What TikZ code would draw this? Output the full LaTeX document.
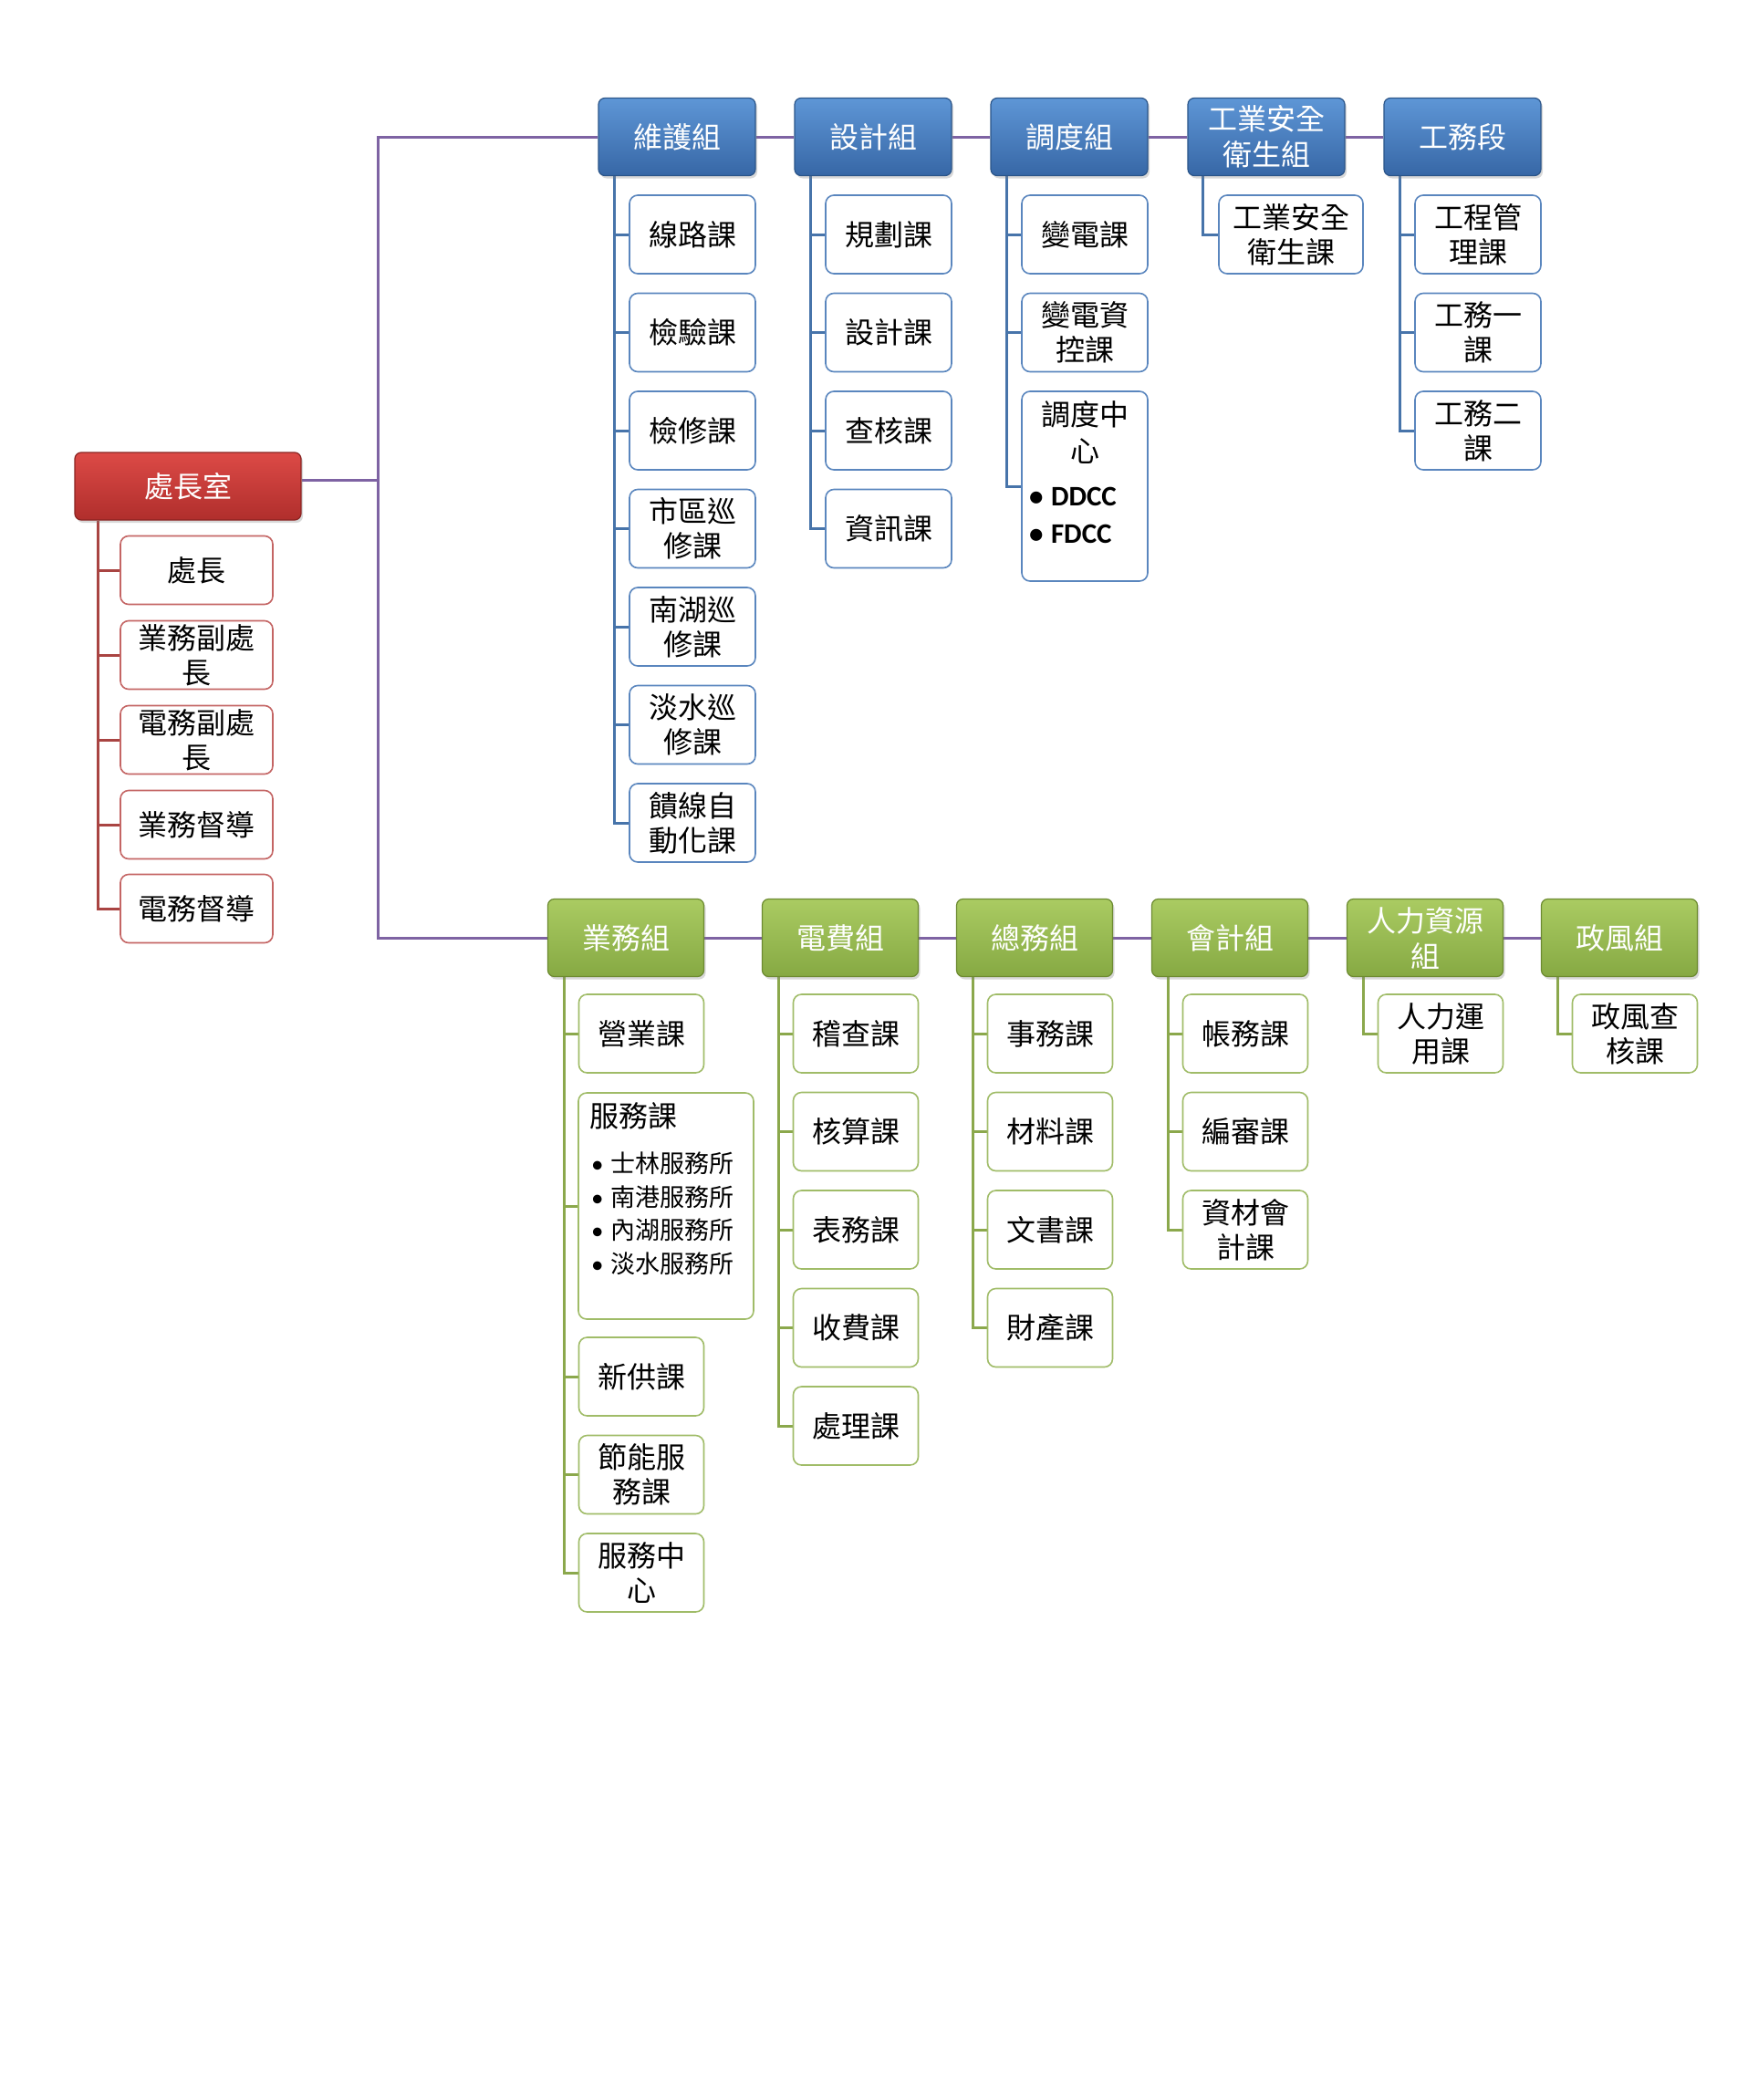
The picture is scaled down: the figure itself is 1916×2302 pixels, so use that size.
\documentclass[tikz,border=0pt]{standalone}
\usepackage{fontspec}
\setmainfont{Noto Sans CJK TC}
\newfontfamily\latb{Carlito}
\usetikzlibrary{shadows,backgrounds}
\definecolor{RedT}{HTML}{DC4A46}
\definecolor{RedB}{HTML}{B02E2C}
\definecolor{RedD}{HTML}{8A2422}
\definecolor{BluT}{HTML}{5E96D6}
\definecolor{BluB}{HTML}{3767A6}
\definecolor{BluD}{HTML}{2B5589}
\definecolor{GrnT}{HTML}{AACB62}
\definecolor{GrnB}{HTML}{86A943}
\definecolor{GrnD}{HTML}{6C8A30}
\definecolor{RedK}{HTML}{C46564}
\definecolor{BluK}{HTML}{5A86BE}
\definecolor{GrnK}{HTML}{A0BC68}
\definecolor{RedL}{HTML}{A94442}
\definecolor{BluL}{HTML}{4774AA}
\definecolor{GrnL}{HTML}{8BA84C}
\definecolor{PurL}{HTML}{7E63A3}
\begin{document}
\begin{tikzpicture}[x=1pt,y=-1pt,
  hdrbase/.style={rounded corners=7pt, minimum width=172pt, minimum height=85pt,
    text=white, align=center, font=\fontsize{32}{39}\selectfont, inner sep=1pt,
    line width=1.2pt, drop shadow={shadow xshift=2pt, shadow yshift=-3pt, opacity=0.3}},
  redhdr/.style={hdrbase, top color=RedT, bottom color=RedB, draw=RedD},
  bluhdr/.style={hdrbase, top color=BluT, bottom color=BluB, draw=BluD},
  grnhdr/.style={hdrbase, top color=GrnT, bottom color=GrnB, draw=GrnD},
  kid/.style={rounded corners=9pt, fill=white, line width=1.6pt, minimum width=138pt,
    minimum height=86pt, align=center, font=\fontsize{32}{38}\selectfont, text=black, inner sep=1pt},
  rkid/.style={kid, draw=RedK, minimum width=167pt, minimum height=75pt},
  bkid/.style={kid, draw=BluK},
  gkid/.style={kid, draw=GrnK},
  conn/.style={line width=3pt},
  rline/.style={conn, draw=RedL},
  bline/.style={conn, draw=BluL},
  gline/.style={conn, draw=GrnL},
  pline/.style={conn, draw=PurL}]
\useasboundingbox (0,0) rectangle (1916,2302);

% ---------- red group ----------
\node[redhdr, minimum width=248pt, minimum height=74pt] (boss) at (206,533) {處長室};
\node[rkid] (r1) at (215.5,625) {處長};
\node[rkid] (r2) at (215.5,718) {業務副處\\長};
\node[rkid] (r3) at (215.5,811) {電務副處\\長};
\node[rkid] (r4) at (215.5,904) {業務督導};
\node[rkid] (r5) at (215.5,996) {電務督導};
\coordinate (rl) at (107,0);

% ---------- blue headers ----------
\node[bluhdr] (b1) at (742,150) {維護組};
\node[bluhdr] (b2) at (957,150) {設計組};
\node[bluhdr] (b3) at (1172,150) {調度組};
\node[bluhdr] (b4) at (1388,150) {工業安全\\衛生組};
\node[bluhdr] (b5) at (1603,150) {工務段};

\node[bkid] (b1a) at (759,257) {線路課};
\node[bkid] (b1b) at (759,364.5) {檢驗課};
\node[bkid] (b1c) at (759,472) {檢修課};
\node[bkid] (b1d) at (759,579.5) {市區巡\\修課};
\node[bkid] (b1e) at (759,687) {南湖巡\\修課};
\node[bkid] (b1f) at (759,794.5) {淡水巡\\修課};
\node[bkid] (b1g) at (759,902) {饋線自\\動化課};

\node[bkid] (b2a) at (974,257) {規劃課};
\node[bkid] (b2b) at (974,364.5) {設計課};
\node[bkid] (b2c) at (974,472) {查核課};
\node[bkid] (b2d) at (974,579.5) {資訊課};

\node[bkid] (b3a) at (1189,257) {變電課};
\node[bkid] (b3b) at (1189,364.5) {變電資\\控課};
\node[bkid, minimum height=208pt, inner sep=5pt] (b3c) at (1189,533)
  {\parbox[c][196pt][t]{128pt}{\vspace*{4pt}\centering\fontsize{32}{40}\selectfont 調度中\\心\par
   \vspace{7pt}\raggedright\fontsize{31}{41}\selectfont\latb\bfseries
   \hspace*{3pt}\makebox[24pt][l]{•}DDCC\\
   \hspace*{3pt}\makebox[24pt][l]{•}FDCC\par}};

\node[bkid, minimum width=158pt] (b4a) at (1415,257) {工業安全\\衛生課};

\node[bkid] (b5a) at (1620,257) {工程管\\理課};
\node[bkid] (b5b) at (1620,364.5) {工務一\\課};
\node[bkid] (b5c) at (1620,472) {工務二\\課};

% ---------- green headers ----------
\node[grnhdr, minimum width=171pt] (g1) at (686,1028) {業務組};
\node[grnhdr, minimum width=171pt] (g2) at (921,1028) {電費組};
\node[grnhdr, minimum width=171pt] (g3) at (1134,1028) {總務組};
\node[grnhdr, minimum width=171pt] (g4) at (1348,1028) {會計組};
\node[grnhdr, minimum width=171pt] (g5) at (1562,1028) {人力資源\\組};
\node[grnhdr, minimum width=171pt] (g6) at (1775,1028) {政風組};

\node[gkid, minimum width=137pt] (g1a) at (703,1133) {營業課};
\node[gkid, minimum width=192pt, minimum height=248pt, inner xsep=12pt, inner ysep=6pt] (g1b) at (730,1322)
  {\parbox[c][236pt][t]{168pt}{\vspace*{4pt}\raggedright\fontsize{32}{38}\selectfont 服務課\par
   \vspace{14pt}\fontsize{27}{36.5}\selectfont
   \makebox[23pt][l]{\hspace{2pt}\latb •}士林服務所\\
   \makebox[23pt][l]{\hspace{2pt}\latb •}南港服務所\\
   \makebox[23pt][l]{\hspace{2pt}\latb •}內湖服務所\\
   \makebox[23pt][l]{\hspace{2pt}\latb •}淡水服務所\par}};
\node[gkid, minimum width=137pt] (g1c) at (703,1509) {新供課};
\node[gkid, minimum width=137pt] (g1d) at (703,1616.5) {節能服\\務課};
\node[gkid, minimum width=137pt] (g1e) at (703,1724) {服務中\\心};

\node[gkid, minimum width=137pt] (g2a) at (938,1133) {稽查課};
\node[gkid, minimum width=137pt] (g2b) at (938,1240.5) {核算課};
\node[gkid, minimum width=137pt] (g2c) at (938,1348) {表務課};
\node[gkid, minimum width=137pt] (g2d) at (938,1455.5) {收費課};
\node[gkid, minimum width=137pt] (g2e) at (938,1563) {處理課};

\node[gkid, minimum width=137pt] (g3a) at (1151,1133) {事務課};
\node[gkid, minimum width=137pt] (g3b) at (1151,1240.5) {材料課};
\node[gkid, minimum width=137pt] (g3c) at (1151,1348) {文書課};
\node[gkid, minimum width=137pt] (g3d) at (1151,1455.5) {財產課};

\node[gkid, minimum width=137pt] (g4a) at (1365,1133) {帳務課};
\node[gkid, minimum width=137pt] (g4b) at (1365,1240.5) {編審課};
\node[gkid, minimum width=137pt] (g4c) at (1365,1348) {資材會\\計課};

\node[gkid, minimum width=137pt] (g5a) at (1579,1133) {人力運\\用課};
\node[gkid, minimum width=137pt] (g6a) at (1792,1133) {政風查\\核課};

\coordinate (px) at (414,0);
\coordinate (l1) at (673,0);
\coordinate (l2) at (888,0);
\coordinate (l3) at (1103,0);
\coordinate (l4) at (1318,0);
\coordinate (l5) at (1534,0);
\coordinate (k1) at (618,0);
\coordinate (k2) at (853,0);
\coordinate (k3) at (1066,0);
\coordinate (k4) at (1280,0);
\coordinate (k5) at (1494,0);
\coordinate (k6) at (1707,0);

\begin{scope}[on background layer]
\fill[white] (0,0) rectangle (1916,2302);
% purple trunk
\draw[pline] ([yshift=7pt]boss.east) -- ([yshift=7pt]boss.east -| px);
\draw[pline] (b1.west) -- (b1.west -| px) -- (g1.west -| px) -- (g1.west);
\draw[pline] (b1.east) -- (b2.west);
\draw[pline] (b2.east) -- (b3.west);
\draw[pline] (b3.east) -- (b4.west);
\draw[pline] (b4.east) -- (b5.west);
\draw[pline] (g1.east) -- (g2.west);
\draw[pline] (g2.east) -- (g3.west);
\draw[pline] (g3.east) -- (g4.west);
\draw[pline] (g4.east) -- (g5.west);
\draw[pline] (g5.east) -- (g6.west);
% red
\foreach \n in {r1,r2,r3,r4,r5} \draw[rline] (boss.south -| rl) |- (\n.west);
% blue
\foreach \n in {b1a,b1b,b1c,b1d,b1e,b1f,b1g} \draw[bline] (b1.south -| l1) |- (\n.west);
\foreach \n in {b2a,b2b,b2c,b2d} \draw[bline] (b2.south -| l2) |- (\n.west);
\foreach \n in {b3a,b3b,b3c} \draw[bline] (b3.south -| l3) |- (\n.west);
\draw[bline] (b4.south -| l4) |- (b4a.west);
\foreach \n in {b5a,b5b,b5c} \draw[bline] (b5.south -| l5) |- (\n.west);
% green
\foreach \n in {g1a,g1b,g1c,g1d,g1e} \draw[gline] (g1.south -| k1) |- (\n.west);
\foreach \n in {g2a,g2b,g2c,g2d,g2e} \draw[gline] (g2.south -| k2) |- (\n.west);
\foreach \n in {g3a,g3b,g3c,g3d} \draw[gline] (g3.south -| k3) |- (\n.west);
\foreach \n in {g4a,g4b,g4c} \draw[gline] (g4.south -| k4) |- (\n.west);
\draw[gline] (g5.south -| k5) |- (g5a.west);
\draw[gline] (g6.south -| k6) |- (g6a.west);
\end{scope}
\end{tikzpicture}
\end{document}
